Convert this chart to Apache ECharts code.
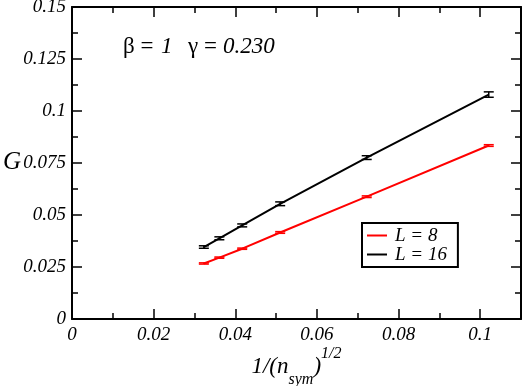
<!DOCTYPE html>
<html>
<head>
<meta charset="utf-8">
<script src="https://cdn.jsdelivr.net/npm/echarts@6/dist/echarts.min.js"></script>
<style>
  html, body { margin: 0; padding: 0; background: #fff; }
  #chart { width: 532px; height: 386px; }
</style>
</head>
<body>
<div id="chart"></div>
<script>
// x = 1/sqrt(n_sym)
const xVals = [0.0323, 0.0361, 0.0417, 0.0510, 0.0722, 0.1021]
const gL8 = [0.0267, 0.0295, 0.0338, 0.0416, 0.0588, 0.0834]
const gL8Err = [0.0003, 0.0003, 0.0003, 0.0004, 0.0004, 0.0004]
const gL16 = [0.0346, 0.0388, 0.0450, 0.0554, 0.0776, 0.1079]
const gL16Err = [0.0006, 0.0007, 0.0007, 0.0009, 0.0009, 0.0013]
const xTicks = [0, 0.02, 0.04, 0.06, 0.08, 0.1]
const yTicks = [0, 0.025, 0.05, 0.075, 0.1, 0.125, 0.15]

const serif = 'Times New Roman'
const chart = echarts.init(document.getElementById('chart'))

function pairs(ys) {
  return xVals.map((x, i) => [x, ys[i]])
}
function errRows(ys, es) {
  return xVals.map((x, i) => [x, ys[i], es[i]])
}

function errorBars(color) {
  return function (params, api) {
    const x = api.value(0)
    const y = api.value(1)
    const e = api.value(2)
    const hi = api.coord([x, y + e])
    const lo = api.coord([x, y - e])
    const w = 5
    const style = { stroke: color, lineWidth: 1.5 }
    return {
      type: 'group',
      children: [
        { type: 'line', shape: { x1: hi[0], y1: hi[1], x2: lo[0], y2: lo[1] }, style },
        { type: 'line', shape: { x1: hi[0] - w, y1: hi[1], x2: hi[0] + w, y2: hi[1] }, style },
        { type: 'line', shape: { x1: lo[0] - w, y1: lo[1], x2: lo[0] + w, y2: lo[1] }, style }
      ]
    }
  }
}

function label(text, left, top, italic, size) {
  return {
    type: 'text', left, top,
    style: { text, fontFamily: serif, fontStyle: italic ? 'italic' : 'normal', fontSize: size, fill: '#000' }
  }
}

const axisCommon = {
  axisLine: { show: true, onZero: false, lineStyle: { color: '#000', width: 2 } },
  axisTick: { show: true, inside: true, length: 10, lineStyle: { color: '#000', width: 1.5 } },
  minorTick: { show: true, splitNumber: 2, length: 6, lineStyle: { color: '#000', width: 1.5 } },
  splitLine: { show: false }
}

const xBase = {
  type: 'value', min: 0, max: 0.11, interval: 0.02,
  ...axisCommon
}
const yBase = {
  type: 'value', min: 0, max: 0.15, interval: 0.025,
  ...axisCommon
}

chart.setOption({
  animation: false,
  textStyle: { fontFamily: serif },
  grid: { left: 72, right: 11, top: 7, bottom: 67, containLabel: false, outerBoundsMode: 'none' },
  xAxis: [
    {
      ...xBase,
      position: 'bottom',
      axisLabel: {
        margin: 6,
        fontFamily: serif, fontStyle: 'italic', fontSize: 19, color: '#000',
        formatter: v => xTicks.some(t => Math.abs(t - v) < 1e-9) ? String(+v.toFixed(3)) : ''
      },
      name: '{m|1/(n}{s|sym}{m|)}{p|1/2}',
      nameLocation: 'middle',
      nameGap: 27,
      nameMoveOverlap: false,
      nameTextStyle: {
        rich: {
          m: { fontFamily: serif, fontStyle: 'italic', fontSize: 23, color: '#000', lineHeight: 42, verticalAlign: 'middle' },
          s: { fontFamily: serif, fontStyle: 'italic', fontSize: 16, color: '#000', lineHeight: 42, verticalAlign: 'bottom' },
          p: { fontFamily: serif, fontStyle: 'italic', fontSize: 16, color: '#000', lineHeight: 42, verticalAlign: 'top' }
        }
      }
    },
    { ...xBase, position: 'top', axisLabel: { show: false } }
  ],
  yAxis: [
    {
      ...yBase,
      position: 'left',
      axisLabel: {
        margin: 6,
        fontFamily: serif, fontStyle: 'italic', fontSize: 19, color: '#000',
        formatter: v => yTicks.some(t => Math.abs(t - v) < 1e-9) ? String(+v.toFixed(3)) : ''
      }
    },
    { ...yBase, position: 'right', axisLabel: { show: false } }
  ],
  legend: {
    orient: 'vertical',
    left: 362, top: 223,
    padding: [3, 11, 3, 5],
    itemGap: 0,
    borderColor: '#000', borderWidth: 2,
    icon: 'rect', itemWidth: 20, itemHeight: 2,
    textStyle: { fontFamily: serif, fontStyle: 'italic', fontSize: 19, lineHeight: 18, color: '#000', padding: [0, 0, 0, 3] },
    data: ['L = 8', 'L = 16']
  },
  graphic: [
    label('G', 3, 150, true, 25),
    label('β =', 123, 35, false, 23),
    label('1', 161, 35, true, 23),
    label('γ =', 188, 35, false, 23),
    label('0.230', 223, 35, true, 23)
  ],
  series: [
    {
      name: 'L = 8', type: 'line', data: pairs(gL8),
      showSymbol: false, color: '#ff0000',
      lineStyle: { width: 2, color: '#ff0000' }
    },
    {
      name: 'L = 16', type: 'line', data: pairs(gL16),
      showSymbol: false, color: '#000',
      lineStyle: { width: 2, color: '#000' }
    },
    {
      type: 'custom', data: errRows(gL8, gL8Err),
      renderItem: errorBars('#ff0000'), z: 3
    },
    {
      type: 'custom', data: errRows(gL16, gL16Err),
      renderItem: errorBars('#000'), z: 3
    }
  ]
})
</script>
</body>
</html>
